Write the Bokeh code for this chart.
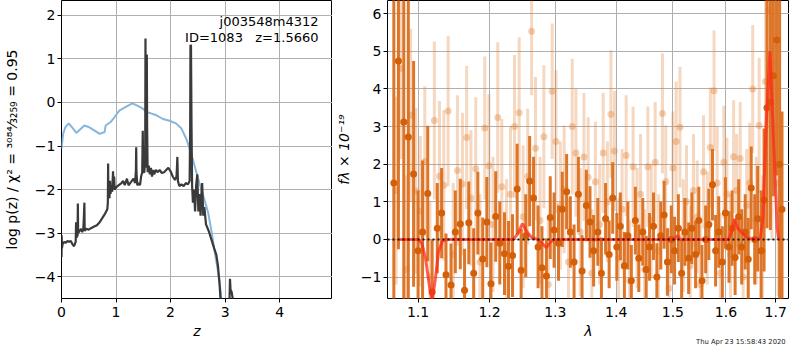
import numpy as np
from bokeh.plotting import figure
from bokeh.layouts import row, column
from bokeh.models import Range1d, FixedTicker, Label, ColumnDataSource, PrintfTickFormatter, Div
from bokeh.embed import file_html
from bokeh.resources import INLINE

# ---------------- left panel data: log p(z) ----------------
z_prior = [0.0, 0.03, 0.07, 0.13, 0.20, 0.27, 0.34, 0.42, 0.51, 0.60, 0.70, 0.79, 0.81,
           0.90, 0.97, 1.06, 1.18, 1.30, 1.40, 1.49, 1.56, 1.64, 1.75, 1.86, 1.98, 2.10,
           2.20, 2.29, 2.38, 2.45, 2.53, 2.61, 2.69, 2.75, 2.81, 2.86, 2.90, 2.93]
logp_prior = [-1.06, -0.72, -0.57, -0.48, -0.58, -0.70, -0.62, -0.53, -0.57, -0.64, -0.72,
              -0.68, -0.53, -0.45, -0.34, -0.19, -0.10, -0.02, -0.08, -0.14, -0.22, -0.25,
              -0.30, -0.38, -0.42, -0.48, -0.60, -0.84, -1.17, -1.50, -1.85, -2.18, -2.53,
              -2.95, -3.43, -3.80, -4.11, -4.49]

z_pz = [0.000, 0.003, 0.008, 0.02, 0.05, 0.08, 0.11, 0.14, 0.17, 0.20, 0.23, 0.26, 0.268,
        0.275, 0.295, 0.300, 0.305, 0.33, 0.36, 0.38, 0.40, 0.41, 0.42, 0.425, 0.45, 0.50,
        0.55, 0.60, 0.65, 0.70, 0.75, 0.80, 0.84, 0.85, 0.855, 0.86, 0.875, 0.88, 0.89, 0.90,
        0.91, 0.93, 0.945, 0.955, 0.965, 0.975, 1.00, 1.05, 1.10, 1.13, 1.16, 1.20, 1.23,
        1.26, 1.29, 1.32, 1.35, 1.365, 1.37, 1.375, 1.39, 1.42, 1.44, 1.46, 1.48, 1.49, 1.50,
        1.52, 1.535, 1.54, 1.545, 1.555, 1.565, 1.57, 1.58, 1.60, 1.62, 1.64, 1.66, 1.68,
        1.70, 1.73, 1.76, 1.80, 1.84, 1.88, 1.92, 1.96, 2.00, 2.04, 2.08, 2.11, 2.125, 2.135,
        2.16, 2.20, 2.24, 2.28, 2.32, 2.35, 2.36, 2.365, 2.375, 2.385, 2.395, 2.41, 2.43,
        2.45, 2.47, 2.49, 2.51, 2.53, 2.55, 2.57, 2.58, 2.60, 2.62, 2.65, 2.70, 2.75, 2.80,
        2.84, 2.87, 2.90, 2.92,
        np.nan, 3.08, 3.09, 3.10, 3.12, 3.14, 3.15]
logp_pz = [-3.55, -3.05, -3.35, -3.25, -3.20, -3.22, -3.18, -3.20, -3.18, -3.25, -3.30, -3.20,
           -2.75, -3.10, -3.05, -2.32, -3.00, -2.95, -2.90, -2.98, -2.90, -2.65, -2.30, -2.95,
           -2.90, -2.92, -2.88, -2.85, -2.82, -2.75, -2.65, -2.55, -2.45, -2.30, -1.40, -2.20,
           -1.95, -2.20, -1.80, -2.10, -1.90, -2.05, -1.58, -2.00, -1.70, -2.00, -1.95, -1.90,
           -1.85, -1.80, -1.90, -1.75, -1.90, -1.85, -1.80, -1.75, -1.85, -1.55, -1.03, -1.60,
           -1.90, -1.85, -1.90, -1.70, -1.60, -0.65, -1.60, -1.60, -1.20, 1.47, -0.30, -1.50,
           1.10, -0.50, -1.60, -1.45, -1.65, -1.50, -1.70, -1.55, -1.65, -1.55, -1.60, -1.55,
           -1.62, -1.60, -1.55, -1.50, -1.58, -1.70, -1.78, -1.70, -1.25, -1.80, -1.92, -1.88,
           -1.92, -1.85, -1.88, -1.80, -0.50, 1.32, 1.30, -0.60, -1.90, -2.30, -2.00, -2.50,
           -1.90, -1.65, -2.50, -2.10, -2.60, -2.00, -1.85, -2.60, -2.40, -2.80, -2.95, -3.15,
           -3.35, -3.50, -3.75, -4.20, -4.60,
           np.nan, -4.60, -4.05, -4.30, -4.35, -4.50, -4.70]

left_xticks = [0, 1, 2, 3, 4]
left_yticks = [-4, -3, -2, -1, 0, 1, 2]

# ---------------- right panel data: spectrum ----------------
wave_a = [1.068, 1.074, 1.081, 1.087, 1.094, 1.100, 1.106, 1.113, 1.119, 1.126, 1.132, 1.138,
          1.145, 1.151, 1.158, 1.164, 1.170, 1.177, 1.183, 1.190, 1.196, 1.202, 1.209, 1.215,
          1.222, 1.228, 1.234, 1.241, 1.247, 1.254, 1.260, 1.266, 1.273, 1.279, 1.286, 1.292,
          1.298, 1.305, 1.311, 1.318, 1.324, 1.330, 1.337, 1.343, 1.350, 1.356, 1.362, 1.369,
          1.375, 1.382, 1.388, 1.394, 1.401, 1.407, 1.414, 1.420, 1.426, 1.433, 1.439, 1.446,
          1.452, 1.458, 1.465, 1.471, 1.478, 1.484, 1.490, 1.497, 1.503, 1.510, 1.516, 1.522,
          1.529, 1.535, 1.542, 1.548, 1.554, 1.561, 1.567, 1.574, 1.580, 1.586, 1.593, 1.599,
          1.606, 1.612, 1.618, 1.625, 1.631, 1.638, 1.644, 1.650, 1.657, 1.663, 1.670, 1.676,
          1.682, 1.689, 1.695, 1.702, 1.708, 1.713]
flux_a = [1.50, 4.74, 3.12, 2.72, 1.74, -0.30, 0.20, 1.22, -1.40, 0.30, 0.70, -0.94,
          -1.21, 0.20, 0.41, -1.35, 0.44, -0.90, 0.70, -0.52, 0.46, -1.18, 0.61, -0.10,
          -0.38, -0.71, -0.43, 1.34, -0.82, 0.10, 1.55, 1.10, -0.20, -0.75, -0.97, 0.58,
          0.25, -0.10, 0.80, 1.27, 0.20, -0.60, 1.20, -0.84, 0.90, 0.46, -0.30, 0.20,
          -0.90, 0.55, -0.40, 1.10, -0.20, 0.35, -0.70, 0.10, -1.10, 0.50, -0.50, 0.20,
          -0.80, -0.20, 0.35, -1.00, 0.10, 0.65, -0.60, 0.00, -0.30, 0.30, -0.90, 0.20,
          -0.50, 0.30, -0.40, 0.50, -1.10, 0.00, 0.40, 1.45, -0.30, 0.20, -0.60, 0.70,
          -0.20, 0.30, -0.48, 0.60, -0.20, 0.20, -0.53, 1.37, 0.00, 0.55, -0.30, 1.05,
          3.50, 3.65, 4.35, 5.30, 2.00, 0.80]
err_a = [6.0, 5.0, 5.0, 4.5, 3.0, 1.6, 1.9, 1.8, 1.4, 1.2, 1.2, 1.1,
         1.1, 1.1, 1.2, 1.1, 1.1, 1.2, 1.1, 1.1, 1.2, 1.1, 1.2, 1.1,
         1.1, 1.2, 1.1, 1.2, 1.1, 1.1, 1.2, 1.1, 1.1, 1.1, 1.0, 1.1,
         1.0, 1.0, 1.0, 1.0, 0.95, 1.0, 1.0, 0.95, 0.95, 0.95, 0.95, 0.9,
         0.95, 0.95, 0.9, 0.95, 0.9, 0.9, 0.9, 0.9, 0.95, 0.9, 0.9, 0.9,
         0.9, 0.9, 0.9, 0.9, 0.9, 0.9, 0.9, 0.9, 0.9, 0.9, 0.9, 0.9,
         0.95, 0.95, 0.9, 0.9, 0.95, 0.9, 0.95, 0.95, 0.95, 0.95, 0.95, 0.95,
         0.95, 1.0, 1.0, 1.0, 1.0, 1.0, 1.1, 1.1, 1.2, 1.4, 1.6, 1.9,
         3.2, 3.4, 3.2, 3.6, 4.5, 2.6]

wave_b = [1.071, 1.077, 1.084, 1.090, 1.097, 1.103, 1.109, 1.116, 1.122, 1.129, 1.135, 1.141,
          1.148, 1.154, 1.161, 1.167, 1.173, 1.180, 1.186, 1.193, 1.199, 1.205, 1.212, 1.218,
          1.225, 1.231, 1.237, 1.244, 1.250, 1.257, 1.263, 1.269, 1.276, 1.282, 1.289, 1.295,
          1.301, 1.308, 1.314, 1.321, 1.327, 1.333, 1.340, 1.346, 1.353, 1.359, 1.365, 1.372,
          1.378, 1.385, 1.391, 1.397, 1.404, 1.410, 1.417, 1.423, 1.429, 1.436, 1.442, 1.449,
          1.455, 1.461, 1.468, 1.474, 1.481, 1.487, 1.493, 1.500, 1.506, 1.513, 1.519, 1.525,
          1.532, 1.538, 1.545, 1.551, 1.557, 1.564, 1.570, 1.577, 1.583, 1.589, 1.596, 1.602,
          1.609, 1.615, 1.621, 1.628, 1.634, 1.641, 1.647, 1.653, 1.660, 1.666, 1.673, 1.679,
          1.685, 1.692, 1.698, 1.705]
flux_b = [1.30, 4.54, -0.80, 3.30, 1.29, 0.75, 2.07, -1.00, 3.16, 1.68, 1.44, 3.41,
          -0.40, 1.83, 1.47, 2.71, 1.10, 1.88, -0.60, 2.96, 1.96, 0.40, 3.24, 1.40,
          -0.20, 1.20, 3.00, 3.37, 0.60, 1.67, 5.53, 2.42, 0.50, 2.73, -1.20, 3.94,
          2.60, 0.90, 1.33, -0.60, 3.00, 2.30, 0.20, 2.19, 1.65, -0.90, 1.53, 0.40,
          2.30, 1.00, 3.33, 2.35, -0.50, 0.80, 2.23, -1.10, 1.93, 0.30, 1.20, -0.80,
          1.93, 0.50, 2.05, -0.30, 3.35, 1.53, -1.30, 1.90, 2.60, 2.98, 0.10, 1.00,
          -0.70, 1.30, 0.60, -1.20, 1.80, 0.30, 2.44, 3.95, 1.50, -0.90, 2.05, 1.20,
          -0.40, 2.20, 1.30, 2.15, -1.00, 0.90, 1.50, 4.00, 0.50, 3.03, -0.30, 4.20,
          6.10, 3.00, 4.70, 1.50]
err_b = [2.5, 2.4, 2.5, 2.3, 2.2, 2.0, 2.0, 2.0, 2.1, 2.0, 2.0, 2.0,
         1.9, 2.0, 1.9, 1.9, 1.8, 1.9, 1.8, 1.9, 1.9, 1.8, 2.0, 1.8,
         1.8, 1.8, 1.9, 2.0, 1.9, 1.8, 1.7, 1.9, 1.7, 1.9, 1.8, 1.8,
         1.9, 1.7, 1.7, 1.7, 1.8, 1.7, 1.7, 1.7, 1.6, 1.7, 1.6, 1.6,
         1.6, 1.6, 1.7, 1.6, 1.6, 1.6, 1.6, 1.6, 1.6, 1.6, 1.6, 1.6,
         1.6, 1.5, 1.6, 1.5, 1.6, 1.5, 1.6, 1.5, 1.6, 1.6, 1.5, 1.5,
         1.6, 1.5, 1.5, 1.6, 1.5, 1.5, 1.6, 1.6, 1.5, 1.6, 1.5, 1.5,
         1.6, 1.5, 1.5, 1.5, 1.6, 1.5, 1.6, 1.7, 1.7, 1.8, 2.0, 2.5,
         3.0, 3.0, 2.8, 3.0]

model_wave = [1.075, 1.100, 1.105, 1.110, 1.115, 1.119, 1.123, 1.128, 1.133, 1.138, 1.235, 1.242,
              1.249, 1.256, 1.263, 1.272, 1.280, 1.286, 1.292, 1.298, 1.502, 1.508, 1.514, 1.605,
              1.611, 1.617, 1.623, 1.630, 1.638, 1.648, 1.668, 1.674, 1.680, 1.688, 1.696, 1.703,
              1.706]
model_flux = [0.0, 0.0, -0.1, -0.5, -1.2, -1.65, -1.1, -0.3, -0.05, 0.0, 0.0, 0.15,
              0.42, 0.2, 0.05, 0.0, -0.12, -0.22, -0.08, 0.0, 0.0, 0.1, 0.0, 0.0,
              0.2, 0.55, 0.3, 0.2, 0.08, 0.02, 0.02, 0.6, 3.0, 5.0, 2.5, 0.3,
              0.0]

right_xticks = [1.1, 1.2, 1.3, 1.4, 1.5, 1.6, 1.7]
right_yticks = [-1, 0, 1, 2, 3, 4, 5, 6]

stamp = "Thu Apr 23 15:58:43 2020"
FONT = "DejaVu Sans"
NB = "\u00a0"


def minus(v):
    return str(v).replace("-", "\u2212")


def style(p, xticks, yticks):
    p.background_fill_color = "white"
    p.border_fill_color = "white"
    p.outline_line_color = "black"
    p.outline_line_width = 1
    p.outline_line_alpha = 1
    for ax in p.axis:
        ax.axis_line_color = None
        ax.major_tick_out = 4
        ax.major_tick_in = 0
        ax.minor_tick_out = 0
        ax.minor_tick_in = 0
        ax.major_tick_line_color = "black"
        ax.major_label_text_font = FONT
        ax.major_label_text_font_size = "14px"
        ax.major_label_text_color = "black"
        ax.major_label_standoff = 2
        ax.axis_label_text_font = FONT
        ax.axis_label_text_font_size = "14px"
        ax.axis_label_text_color = "black"
    for g in p.grid:
        g.grid_line_color = "#b0b0b0"
        g.grid_line_width = 1
    p.xaxis.ticker = FixedTicker(ticks=xticks)
    p.yaxis.ticker = FixedTicker(ticks=yticks)
    p.yaxis.major_label_overrides = {v: minus(v) for v in yticks}
    p.xaxis.major_label_standoff = 4
    p.xaxis.axis_label_standoff = 3


FH = 298

# ---------------- left figure ----------------
p1 = figure(frame_width=271, frame_height=FH, x_range=Range1d(0, 4.97),
            y_range=Range1d(-4.5, 2.34), output_backend="svg", toolbar_location=None,
            min_border_left=54, min_border_right=0, min_border_top=0, min_border_bottom=0)
style(p1, left_xticks, left_yticks)
p1.xaxis.axis_label = "z"
p1.xaxis.axis_label_text_font_style = "italic"
p1.yaxis.axis_label = "log p(z) / \u03c7\u00b2 = \u00b3\u2070\u2078\u2074\u2044\u2083\u2082\u2085\u2089 = 0.95"
p1.yaxis.axis_label_text_font_style = "normal"
p1.yaxis.axis_label_standoff = 12

p1.line(z_prior, logp_prior, line_color="#86b6db", line_width=2)
p1.line(z_pz, logp_pz, line_color="#3a3a3a", line_width=2.2)

p1.add_layout(Label(x=4.97, y=1.865, x_offset=-14, text="j003548m4312", text_align="right",
                    text_baseline="alphabetic", text_font=FONT, text_font_size="13px",
                    text_color="black"))
p1.add_layout(Label(x=4.97, y=1.50, x_offset=-14, text="ID=1083" + NB * 3 + "z=1.5660",
                    text_align="right", text_baseline="alphabetic", text_font=FONT,
                    text_font_size="13px", text_color="black"))

# ---------------- right figure ----------------
p2 = figure(frame_width=402, frame_height=FH, x_axis_type="log",
            x_range=Range1d(1.0598, 1.7287), y_range=Range1d(-1.57, 6.35),
            output_backend="svg", toolbar_location=None,
            min_border_left=44, min_border_right=0, min_border_top=0, min_border_bottom=0)
style(p2, right_xticks, right_yticks)
p2.xaxis.formatter = PrintfTickFormatter(format="%.1f")
p2.xaxis.axis_label = "\u03bb"
p2.xaxis.axis_label_text_font_style = "italic"
p2.yaxis.axis_label = "f\u03bb \u00d7 10\u207b\u00b9\u2079"
p2.yaxis.axis_label_standoff = 6

src_b = ColumnDataSource(dict(w=wave_b, f=flux_b,
                              lo=[f - e for f, e in zip(flux_b, err_b)],
                              hi=[f + e for f, e in zip(flux_b, err_b)]))
src_a = ColumnDataSource(dict(w=wave_a, f=flux_a,
                              lo=[f - e for f, e in zip(flux_a, err_a)],
                              hi=[f + e for f, e in zip(flux_a, err_a)]))

p2.segment(x0="w", y0="lo", x1="w", y1="hi", source=src_b, line_color="#e07a2a",
           line_alpha=0.3, line_width=3)
p2.scatter(x="w", y="f", source=src_b, size=7, fill_color="#e07a2a", fill_alpha=0.35,
           line_color=None)
p2.segment(x0="w", y0="lo", x1="w", y1="hi", source=src_a, line_color="#db6f1e",
           line_alpha=0.95, line_width=3)
p2.scatter(x="w", y="f", source=src_a, size=7, fill_color="#d35f08", fill_alpha=1.0,
           line_color=None)

p2.line(model_wave, model_flux, line_color="#ff2a1a", line_alpha=0.75, line_width=3)
p2.line([1.0598, 1.7287], [0, 0], line_color="black", line_alpha=0.85, line_width=2,
        line_dash="2 3")

stamp_div = Div(text=stamp, width=95, height=6, margin=(-6, 0, 0, 696),
                styles={"font-size": "6.8px", "font-family": FONT, "color": "#222222",
                        "line-height": "6px", "white-space": "nowrap",
                        "transform": "translateY(4px)"})

layout = column(row(p1, p2), stamp_div)
open("out.html", "w").write(file_html(layout, INLINE))
